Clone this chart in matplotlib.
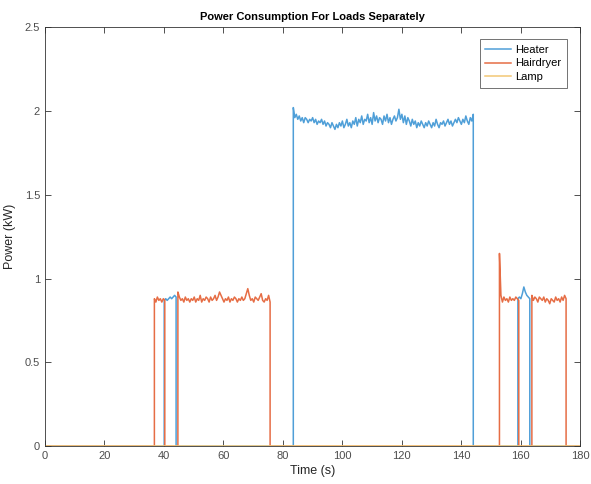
import numpy as np
import matplotlib
matplotlib.use("Agg")
import matplotlib.pyplot as plt

plt.rcParams['font.family'] = ['Liberation Sans', 'DejaVu Sans']

# 采样间隔 (s)
STEP = 0.5
T_END = 180

# 每段负载开启: (开始时间, 功率值列表 kW)
heater_segments = [
    (40.1, [0.87, 0.88, 0.87, 0.88, 0.89, 0.88, 0.89, 0.90, 0.89]),
    (83.5, [2.02, 1.96, 1.98, 1.95, 1.97, 1.94, 1.96, 1.93, 1.96, 1.95,
            1.93, 1.95, 1.94, 1.96, 1.93, 1.95, 1.92, 1.94, 1.93, 1.95,
            1.92, 1.94, 1.91, 1.93, 1.92, 1.90, 1.93, 1.91, 1.89, 1.92,
            1.90, 1.93, 1.91, 1.94, 1.90, 1.92, 1.95, 1.91, 1.93, 1.90,
            1.94, 1.92, 1.96, 1.91, 1.95, 1.93, 1.97, 1.92, 1.95, 1.94,
            1.98, 1.93, 1.96, 1.92, 1.99, 1.94, 1.97, 1.93, 1.96, 1.95,
            1.92, 1.97, 1.94, 1.98, 1.93, 1.96, 1.92, 1.95, 1.97, 1.94,
            1.96, 2.01, 1.95, 1.98, 1.93, 1.97, 1.92, 1.96, 1.94, 1.91,
            1.95, 1.92, 1.94, 1.90, 1.93, 1.91, 1.94, 1.92, 1.90, 1.93,
            1.91, 1.94, 1.92, 1.90, 1.93, 1.91, 1.95, 1.92, 1.90, 1.93,
            1.92, 1.94, 1.91, 1.93, 1.95, 1.92, 1.94, 1.91, 1.93, 1.95,
            1.93, 1.96, 1.94, 1.92, 1.95, 1.93, 1.97, 1.94, 1.92, 1.96,
            1.94, 1.98]),
    (159.0, [0.88, 0.89, 0.88, 0.91, 0.95, 0.92, 0.90, 0.89, 0.88]),
]

hairdryer_segments = [
    (36.8, [0.88, 0.86, 0.89, 0.87, 0.88, 0.86, 0.88, 0.87]),
    (44.7, [0.92, 0.89, 0.87, 0.88, 0.86, 0.89, 0.87, 0.88, 0.86, 0.88,
            0.87, 0.89, 0.86, 0.88, 0.87, 0.90, 0.86, 0.88, 0.87, 0.89,
            0.88, 0.86, 0.89, 0.87, 0.88, 0.90, 0.87, 0.89, 0.92, 0.90,
            0.88, 0.86, 0.88, 0.87, 0.89, 0.86, 0.88, 0.87, 0.89, 0.88,
            0.86, 0.88, 0.87, 0.89, 0.87, 0.88, 0.91, 0.94, 0.90, 0.87,
            0.88, 0.86, 0.89, 0.88, 0.87, 0.89, 0.91, 0.87, 0.86, 0.88,
            0.87, 0.90, 0.86]),
    (152.8, [1.15, 0.90, 0.86, 0.89, 0.87, 0.88, 0.86, 0.89, 0.87, 0.88,
             0.87, 0.89, 0.88, 0.87]),
    (163.7, [0.90, 0.87, 0.89, 0.88, 0.86, 0.89, 0.88, 0.87, 0.89, 0.86,
             0.88, 0.87, 0.85, 0.88, 0.87, 0.86, 0.89, 0.87, 0.88, 0.86,
             0.89, 0.87, 0.90, 0.88]),
]

lamp_segments = []

names = ['Heater', 'Hairdryer', 'Lamp']
colors = ['#4f9fd8', '#e66d45', '#f3c775']


def build_series(segments):
    t = [0.0]
    v = [0.0]
    for start, vals in segments:
        ts = [start + STEP * i for i in range(len(vals))]
        t += [start] + ts + [ts[-1]]
        v += [0.0] + vals + [0.0]
    t.append(T_END)
    v.append(0.0)
    return t, v


fig = plt.figure(figsize=(5.91, 4.84), dpi=100)
ax = fig.add_axes([0.076, 0.078, 0.906, 0.866])

for segs, name, c in zip([heater_segments, hairdryer_segments, lamp_segments], names, colors):
    t, v = build_series(segs)
    ax.plot(t, v, color=c, lw=1.1, label=name)

ax.set_xlim(0, 180)
ax.set_ylim(0, 2.5)
ax.set_xticks(np.arange(0, 181, 20))
ax.set_yticks([0, 0.5, 1, 1.5, 2, 2.5])
ax.set_yticklabels(['0', '0.5', '1', '1.5', '2', '2.5'])

for s in ax.spines.values():
    s.set_color('#333333')
    s.set_linewidth(0.6)
ax.tick_params(direction='in', top=True, right=True, length=4, width=0.6,
               labelsize=8, colors='#333333', labelcolor='#4d4d4d')

ax.set_title('Power Consumption For Loads Separately', fontsize=8,
             fontweight='bold', pad=5)
ax.set_xlabel('Time (s)', fontsize=9, color='#262626', labelpad=3)
ax.set_ylabel('Power (kW)', fontsize=9, color='#262626', labelpad=6)

leg = ax.legend(loc='upper right', fontsize=8, frameon=True, fancybox=False,
                edgecolor='#333333', handlelength=2.3, borderpad=0.5,
                labelspacing=0.35, handletextpad=0.4, bbox_to_anchor=(0.985, 0.985))
leg.get_frame().set_linewidth(0.6)

fig.savefig('out.png', dpi=100)
